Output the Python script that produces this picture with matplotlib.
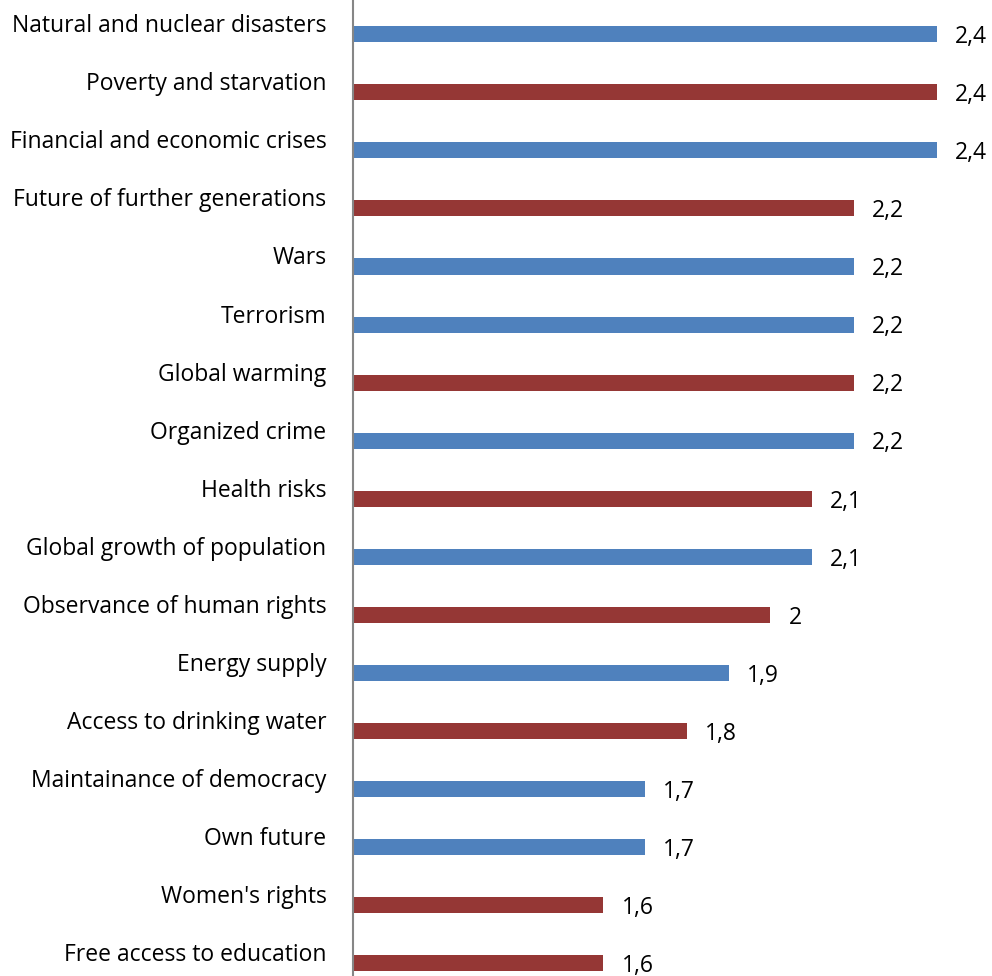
import matplotlib
matplotlib.use("Agg")
import matplotlib.pyplot as plt
import numpy as np

# categories (top to bottom) and mean values
categories = [
    "Natural and nuclear disasters", "Poverty and starvation",
    "Financial and economic crises", "Future of further generations",
    "Wars", "Terrorism", "Global warming", "Organized crime",
    "Health risks", "Global growth of population",
    "Observance of human rights", "Energy supply",
    "Access to drinking water", "Maintainance of democracy",
    "Own future", "Women's rights", "Free access to education",
]
values = [2.4, 2.4, 2.4, 2.2, 2.2, 2.2, 2.2, 2.2, 2.1, 2.1, 2.0, 1.9,
          1.8, 1.7, 1.7, 1.6, 1.6]
# which series each bar belongs to (0 = blue, 1 = red)
series = [0, 1, 0, 1, 0, 0, 1, 0, 1, 0, 1, 0, 1, 0, 0, 1, 1]

colors = {0: "#4F81BD", 1: "#953735"}

plt.rcParams['font.family'] = ['Open Sans', 'DejaVu Sans']

fig = plt.figure(figsize=(9.92, 9.76), dpi=100)
ax = fig.add_axes([353 / 992, 0, (979 - 353) / 992, 1])

y = np.arange(len(categories))
bar_off = 0.19
ax.barh(y + bar_off, values, height=0.276,
        color=[colors[s] for s in series], left=0)

for yi, v in zip(y, values):
    ax.annotate(f"{v:g}".replace(".", ","), (v, yi + bar_off),
                xytext=(13, -2), textcoords="offset points",
                va="center", ha="left", fontsize=16.5, color="black",
                annotation_clip=False)

ax.set_xlim(1, 2.5)
ax.set_ylim(len(categories) - 1 + 0.41, -0.4)
ax.set_yticks(y)
ax.set_yticklabels(categories, fontsize=16.5)
ax.tick_params(axis="y", length=0, pad=19)
ax.set_xticks([])

for side in ["top", "right", "bottom"]:
    ax.spines[side].set_visible(False)
ax.spines["left"].set_color("#868686")
ax.spines["left"].set_linewidth(1.5)

fig.savefig("out.png", dpi=100)
